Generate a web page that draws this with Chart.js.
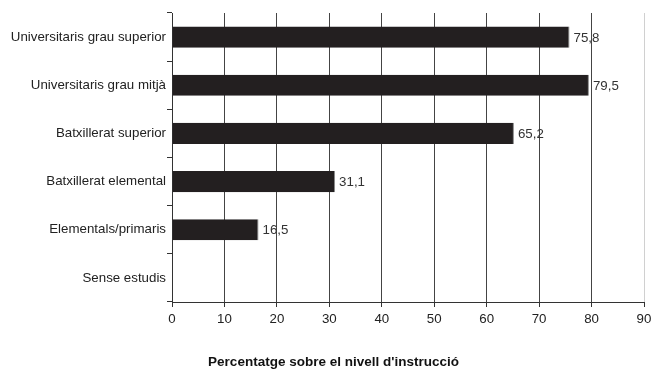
<!DOCTYPE html>
<html>
<head>
<meta charset="utf-8">
<script src="https://cdn.jsdelivr.net/npm/chart.js@4/dist/chart.umd.min.js"></script>
<style>
html,body{margin:0;padding:0;background:#fff;}
canvas{display:block;}
</style>
</head>
<body>
<canvas id="c" width="651" height="369"></canvas>
<script>
const categories = [
  "Universitaris grau superior",
  "Universitaris grau mitjà",
  "Batxillerat superior",
  "Batxillerat elemental",
  "Elementals/primaris",
  "Sense estudis"
];
const values = [75.8, 79.5, 65.2, 31.1, 16.5, null];
const valueLabels = ["75,8", "79,5", "65,2", "31,1", "16,5", ""];
const xTicks = [0, 10, 20, 30, 40, 50, 60, 70, 80, 90];
const axisTitle = "Percentatge sobre el nivell d'instrucció";

const FONT = "'Liberation Sans', Arial, Helvetica, sans-serif";

const labelPlugin = {
  id: 'valueLabels',
  afterDatasetsDraw(chart) {
    const ctx = chart.ctx;
    const meta = chart.getDatasetMeta(0);
    ctx.save();
    ctx.font = "13.3px " + FONT;
    ctx.fillStyle = "#333";
    ctx.textAlign = "left";
    ctx.textBaseline = "middle";
    meta.data.forEach((bar, i) => {
      if (values[i] === null) return;
      ctx.fillText(valueLabels[i], bar.x + 4, bar.y + 1);
    });
    ctx.restore();
  }
};

const titlePlugin = {
  id: 'bottomTitle',
  afterDraw(chart) {
    const ctx = chart.ctx;
    ctx.save();
    ctx.font = "bold 13.5px " + FONT;
    ctx.fillStyle = "#111";
    ctx.textAlign = "center";
    ctx.textBaseline = "alphabetic";
    ctx.fillText(axisTitle, 333.5, 366);
    ctx.restore();
  }
};

new Chart(document.getElementById('c'), {
  type: 'bar',
  data: {
    labels: categories,
    datasets: [{
      data: values,
      backgroundColor: '#231f20',
      borderColor: '#8a8a8a',
      borderWidth: {top: 0, bottom: 0, left: 0, right: 1},
      borderSkipped: false,
      barPercentage: 0.44,
      categoryPercentage: 1
    }]
  },
  options: {
    indexAxis: 'y',
    responsive: false,
    devicePixelRatio: 1,
    animation: false,
    layout: { padding: { left: 0, right: 0, top: 13, bottom: 0 } },
    plugins: {
      legend: { display: false },
      tooltip: { enabled: false }
    },
    scales: {
      x: {
        type: 'linear',
        min: 0,
        max: 90,
        afterBuildTicks(scale) { scale.ticks = xTicks.map(v => ({ value: v })); },
        afterFit(scale) {
          scale.height = 67;
          scale.paddingLeft = 0;
          scale.paddingRight = 7;
        },
        border: { display: true, color: '#333', width: 1 },
        grid: {
          display: true,
          drawOnChartArea: true,
          drawTicks: true,
          tickLength: 5,
          color: (c) => (c.tick && c.tick.value === 90) ? '#d0d0d0' : '#444',
          tickColor: '#333',
          lineWidth: 1
        },
        ticks: {
          padding: 4,
          color: '#222',
          font: { family: FONT, size: 13.3 },
          callback: (v) => String(v)
        },
        title: { display: false }
      },
      y: {
        afterFit(scale) { scale.width = 172; },
        border: { display: true, color: '#333', width: 1 },
        grid: {
          display: true,
          offset: true,
          drawOnChartArea: false,
          drawTicks: true,
          tickLength: 5,
          tickColor: '#333'
        },
        ticks: {
          padding: 1,
          color: '#222',
          font: { family: FONT, size: 13.3 }
        }
      }
    }
  },
  plugins: [labelPlugin, titlePlugin]
});
</script>
</body>
</html>
